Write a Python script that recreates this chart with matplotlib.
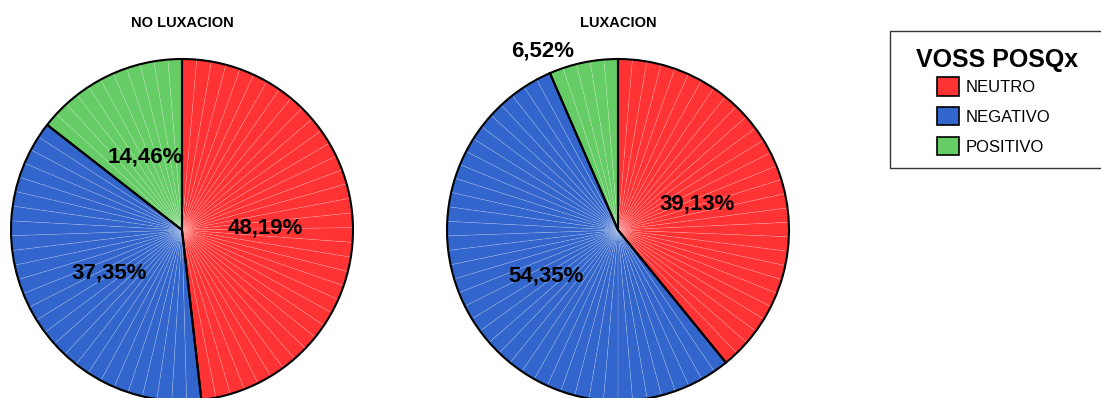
import numpy as np
import matplotlib.pyplot as plt
from matplotlib.patches import Rectangle, Patch

plt.rcParams['font.family'] = ['Liberation Sans', 'DejaVu Sans']

# datos
categorias = ['NEUTRO', 'NEGATIVO', 'POSITIVO']
titulos = ['NO LUXACION', 'LUXACION']
no_luxacion = [48.19, 37.35, 14.46]
luxacion = [39.13, 54.35, 6.52]
colores = ['#FF3333', '#3366CC', '#66CC66']


def fmt_pct(p):
    return '{:.2f}%'.format(p).replace('.', ',')


def pastel(ax, valores):
    # sub-cunas finas (efecto de rayas radiales)
    sub_vals, sub_cols = [], []
    for v, c in zip(valores, colores):
        n = max(1, int(np.ceil(v * 3.6 / 5.0)))
        sub_vals += [v / n] * n
        sub_cols += [c] * n
    ax.pie(sub_vals, colors=sub_cols, startangle=90, counterclock=False,
           radius=1,
           wedgeprops=dict(edgecolor=(1, 1, 1, 0.2), linewidth=0.5))
    # cunas reales con borde negro
    w, t, at = ax.pie(valores, startangle=90, counterclock=False, radius=1,
                      autopct=fmt_pct, pctdistance=0.49,
                      wedgeprops=dict(facecolor='none', edgecolor='black',
                                      linewidth=1.5),
                      textprops=dict(fontsize=16, fontweight='bold',
                                     color='black'))
    for txt in at:
        txt.set_va('center_baseline')
    ax.set_xlim(-1, 1)
    ax.set_ylim(-1, 1)
    ax.set_aspect('equal')
    ax.axis('off')
    return at


fig = plt.figure(figsize=(11.01, 3.98), dpi=100)
W, H = 1101.0, 398.0
r = 171
for cx, vals, tit in [(182, no_luxacion, titulos[0]), (618, luxacion, titulos[1])]:
    ax = fig.add_axes([(cx - r) / W, (H - 230 - r) / H, 2 * r / W, 2 * r / H])
    at = pastel(ax, vals)
    for txt, v in zip(at, vals):
        if v < 10:
            txt.set_position((-0.44, 1.06))
    fig.text(cx / W, 1 - 23 / H, tit, ha='center', va='center',
             fontsize=10.5, fontweight='bold')

# leyenda
fig.patches.append(Rectangle((890 / W, 1 - 168 / H), 212 / W, 137 / H,
                             transform=fig.transFigure, facecolor='white',
                             edgecolor='#333333', linewidth=1.0))
fig.text(997 / W, 1 - 60 / H, 'VOSS POSQx', ha='center', va='center',
         fontsize=18, fontweight='bold')
handles = [Patch(facecolor=c, edgecolor='black', linewidth=1.2) for c in colores]
fig.legend(handles, categorias, loc='upper left',
           bbox_to_anchor=(929 / W, 1 - 69 / H), frameon=False,
           fontsize=12, handlelength=1.3, handleheight=1.3,
           handletextpad=0.4, labelspacing=0.7, borderpad=0)

fig.savefig('out.png', dpi=100)
